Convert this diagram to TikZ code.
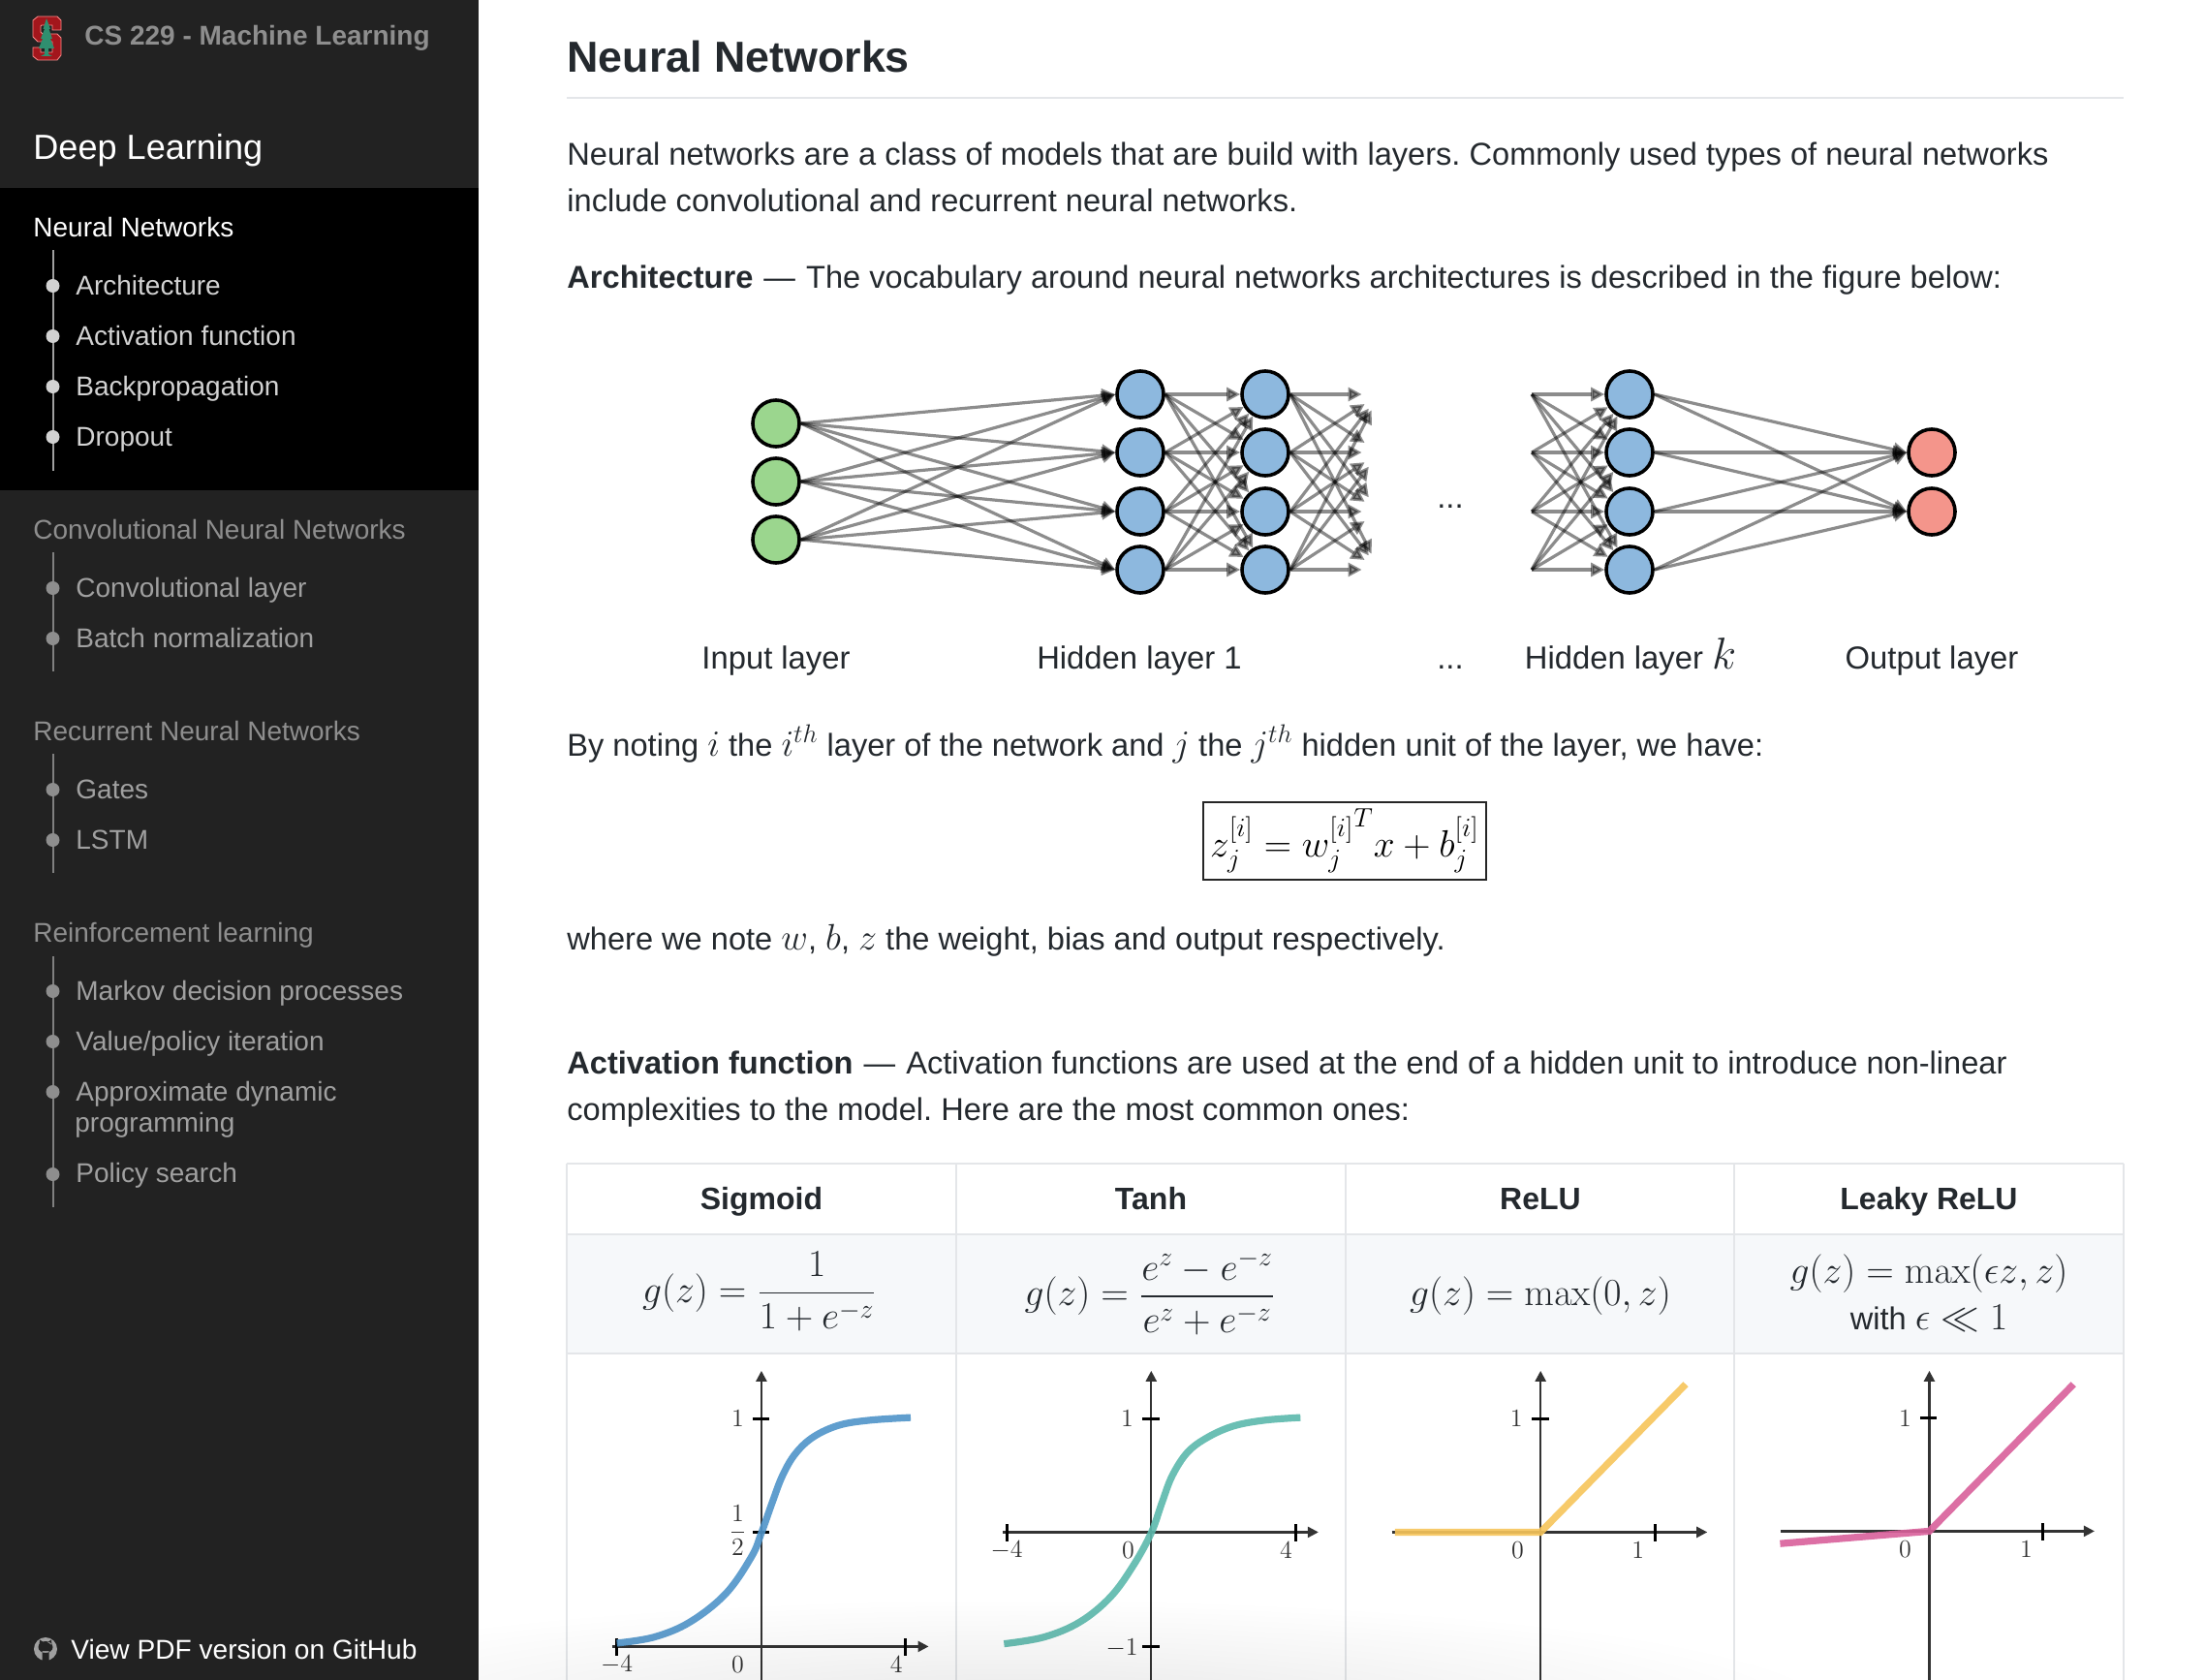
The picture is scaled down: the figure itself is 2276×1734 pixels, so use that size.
\documentclass[tikz,border=0pt]{standalone}
\usepackage{fix-cm}
\usepackage{amsmath}
\usepackage[no-math]{fontspec}
\setmainfont{Liberation Sans}
\usetikzlibrary{arrows.meta,fadings}
\definecolor{sidebg}{HTML}{222222}
\definecolor{inkc}{HTML}{24292E}
\definecolor{gridc}{HTML}{E4E6E9}
\definecolor{rowc}{HTML}{F6F8FA}
\definecolor{secc}{HTML}{8E8E8E}
\definecolor{subc}{HTML}{D2D2D2}
\definecolor{dimc}{HTML}{A0A0A0}
\definecolor{greenc}{HTML}{9BD68E}
\definecolor{bluec}{HTML}{8DB8DE}
\definecolor{redc}{HTML}{F4958B}
\definecolor{axisc}{HTML}{333333}
\definecolor{logoc}{HTML}{A3161C}
\definecolor{treec}{HTML}{2F8F6F}
\newcommand{\mth}[1]{{\fontsize{19}{20}\selectfont$#1$}}
\newcommand{\edash}{\kern1pt---\kern1pt}
\tikzfading[name=softb,inner color=transparent!0,outer color=transparent!100]
\tikzset{
  side/.style={anchor=base west,inner sep=0pt,font=\fontsize{14.0}{16}\selectfont},
  sec/.style={side,text=secc},
  subl/.style={side,text=subc},
  dim/.style={side,text=dimc},
  body/.style={anchor=base west,inner sep=0pt,text=inkc,font=\frenchspacing\fontsize{16.3}{18}\selectfont},
  lab/.style={anchor=base,inner sep=0pt,text=inkc,font=\fontsize{16.4}{18}\selectfont},
  head/.style={anchor=base,inner sep=0pt,text=inkc,font=\fontsize{16}{18}\selectfont\bfseries},
  frm/.style={anchor=center,inner sep=0pt,text=inkc,font=\fontsize{19.8}{22}\selectfont},
  tick/.style={anchor=center,inner sep=0pt,text=axisc,font=\fontsize{13}{15}\selectfont},
  neuron/.style={circle,draw=black,line width=1.8pt,minimum size=24pt,inner sep=0pt},
  ghost/.style={circle,minimum size=18pt,inner sep=0pt},
  conn/.style={black,opacity=.45,line width=1.6pt,-{Triangle[length=7pt,width=7pt]}},
  axis/.style={axisc,line width=1.2pt,-{Triangle[length=5.5pt,width=5.5pt]}},
  tk/.style={black,line width=1.5pt},
  curve/.style={line width=3.6pt,opacity=.9},
  tl/.style={dimc,line width=1pt},
  tlb/.style={dimc!80!black,line width=1pt},
  dot/.style={fill=#1,circle,inner sep=0pt,minimum size=7pt},
}
\begin{document}
\begin{tikzpicture}[x=0.5pt,y=-0.5pt]
\useasboundingbox (0,0) rectangle (2276,1734);
\fill[white] (0,0) rectangle (2276,1734);
% sidebar
\fill[sidebg] (0,0) rectangle (494,1734);
\fill[black] (0,194) rectangle (494,506);
% logo
\fill[logoc,draw=red!45!white,line width=.4pt]
 (39,17)--(59,17)--(63,21)--(63,31)--(54,31)--(54,26)--(43,26)--(42,27)--(42,33)--(44,35)--(59,35)--(63,39)--(63,57)--(59,62)--(39,62)--(34,58)--(34,49)--(42,49)--(42,54)--(54,54)--(54,43)--(39,43)--(34,38)--(34,21)--cycle;
\fill[treec] (48,19)--(52,30)--(50.5,30)--(54,40)--(52,40)--(56,50)--(50,50)--(50,56)--(54,58)--(42,58)--(46,56)--(46,50)--(40,50)--(44,40)--(42,40)--(46,30)--(44.5,30)--cycle;
\node[anchor=base west,inner sep=0pt,text=secc,font=\fontsize{14.0}{16}\selectfont\bfseries] (title) at (87,47) {CS 229 - Machine Learning};
\node[anchor=base west,inner sep=0pt,text=white,font=\fontsize{18.05}{20}\selectfont] (deep) at (34,164) {Deep Learning};
\node[side,text=white] (s0) at (34,244) {Neural Networks};
\draw[tl] (54.5,258) -- (54.5,486);
\foreach \yy in {295,347,399,451}{\node[dot=subc] at (54.5,\yy) {};}
\node[subl] (s1) at (78,304) {Architecture};
\node[subl] (s2) at (78,356) {Activation function};
\node[subl] (s3) at (78,408) {Backpropagation};
\node[subl] (s4) at (78,460) {Dropout};
\node[sec] (c0) at (34,556) {Convolutional Neural Networks};
\draw[tlb] (54.5,570) -- (54.5,693);
\foreach \yy in {607,659}{\node[dot=secc] at (54.5,\yy) {};}
\node[dim] (c1) at (78,616) {Convolutional layer};
\node[dim] (c2) at (78,668) {Batch normalization};
\node[sec] (r0) at (34,764) {Recurrent Neural Networks};
\draw[tlb] (54.5,778) -- (54.5,901);
\foreach \yy in {815,867}{\node[dot=secc] at (54.5,\yy) {};}
\node[dim] (r1) at (78,824) {Gates};
\node[dim] (r2) at (78,876) {LSTM};
\node[sec] (l0) at (34,972) {Reinforcement learning};
\draw[tlb] (54.5,987) -- (54.5,1246);
\foreach \yy in {1023,1075,1127,1212}{\node[dot=secc] at (54.5,\yy) {};}
\node[dim] (l1) at (78,1032) {Markov decision processes};
\node[dim] (l2) at (78,1084) {Value/policy iteration};
\node[dim] (l3) at (78,1136) {Approximate dynamic};
\node[dim] (l3b) at (77,1168) {programming};
\node[dim] (l4) at (78,1220) {Policy search};
% github
\fill[dimc] (47,1702) circle (12);
\fill[sidebg] (47,1700) ellipse (7.5 and 6) (40.5,1698)--(41,1692.5)--(45,1695)--cycle (53.5,1698)--(53,1692.5)--(49,1695)--cycle (43.5,1704) rectangle (50.5,1714);
\node[anchor=base west,inner sep=0pt,text=white,font=\fontsize{14.05}{16}\selectfont] (gh) at (73,1712) {View PDF version on GitHub};
% main text
\node[anchor=base west,inner sep=0pt,text=inkc,font=\fontsize{22.4}{26}\selectfont\bfseries] (h1) at (585,75) {Neural Networks};
\draw[gridc,line width=1pt] (585,101) -- (2192,101);
\node[body] (p1) at (585,170) {Neural networks are a class of models that are build with layers. Commonly used types of neural networks};
\node[body] (p2) at (585,218) {include convolutional and recurrent neural networks.};
\node[body] (p3) at (585,297) {\textbf{Architecture} \edash{} The vocabulary around neural networks architectures is described in the figure below:};
% network
\foreach \i/\yy in {1/437,2/497,3/557}{\node[neuron,fill=greenc] (in\i) at (801,\yy) {};}
\foreach \i/\yy in {1/407,2/467,3/528,4/588}{
  \node[neuron,fill=bluec] (ha\i) at (1177,\yy) {};
  \node[neuron,fill=bluec] (hb\i) at (1306,\yy) {};
  \node[ghost] (vr\i) at (1424,\yy) {};
  \coordinate (vl\i) at (1581,\yy);
  \node[neuron,fill=bluec] (hk\i) at (1682,\yy) {};
}
\foreach \i/\yy in {1/467,2/528}{\node[neuron,fill=redc] (out\i) at (1994,\yy) {};}
\foreach \a in {1,2,3}{\foreach \b in {1,2,3,4}{\draw[conn] (in\a.east) -- (ha\b.west);}}
\foreach \a in {1,2,3,4}{\foreach \b in {1,2,3,4}{
  \draw[conn] (ha\a.east) -- (hb\b);
  \draw[conn] (hb\a.east) -- (vr\b);
  \draw[conn] (vl\a) -- (hk\b);
}}
\foreach \a in {1,2,3,4}{\foreach \b in {1,2}{\draw[conn] (hk\a.east) -- (out\b.west);}}
\node[lab] (d1) at (1497,524) {...};
\node[lab] (t1) at (801,690) {Input layer};
\node[lab] (t2) at (1176,690) {Hidden layer 1};
\node[lab] (t3) at (1497,690) {...};
\node[lab] (t4) at (1683,690) {Hidden layer {\fontsize{23}{24}\selectfont$k$}};
\node[lab] (t5) at (1994,690) {Output layer};
\node[body] (p4) at (585,780) {By noting \mth{i} the \mth{i^{th}} layer of the network and \mth{j} the \mth{j^{th}} hidden unit of the layer, we have:};
\node[draw=black!85,line width=1.1pt,minimum width=146pt,minimum height=40pt,inner sep=0pt,font=\fontsize{19.6}{22}\selectfont] (eq) at (1388,868) {$z_j^{[i]}={w_j^{[i]}}^{T}x+b_j^{[i]}$};
\node[body] (p5) at (585,980) {where we note \mth{w}, \mth{b}, \mth{z} the weight, bias and output respectively.};
\node[body] (p6) at (585,1108) {\textbf{Activation function} \edash{} Activation functions are used at the end of a hidden unit to introduce non-linear};
\node[body] (p7) at (585,1156) {complexities to the model. Here are the most common ones:};
% table
\fill[rowc] (585,1274) rectangle (2192,1397);
\draw[gridc,line width=1.3pt] (585,1201) -- (2192,1201) (585,1274) -- (2192,1274) (585,1397) -- (2192,1397)
  (585,1201) -- (585,1734) (987,1201) -- (987,1734) (1389,1201) -- (1389,1734) (1790,1201) -- (1790,1734) (2192,1201) -- (2192,1734);
\node[head] (th1) at (786,1248) {Sigmoid};
\node[head] (th2) at (1188,1248) {Tanh};
\node[head] (th3) at (1590,1248) {ReLU};
\node[head] (th4) at (1991,1248) {Leaky ReLU};
\node[frm] (f1) at (784,1333) {$g(z)=\dfrac{1}{1+e^{-z}}$};
\node[frm] (f2) at (1187,1334) {$g(z)=\dfrac{e^{z}-e^{-z}}{e^{z}+e^{-z}}$};
\node[frm] (f3) at (1590,1338) {$g(z)=\max(0,z)$};
\node[frm] (f4) at (1991,1315) {$g(z)=\max(\epsilon z,z)$};
\node[frm,font=\fontsize{16.3}{18}\selectfont] (f4b) at (1991,1360) {with {\fontsize{19.8}{22}\selectfont$\epsilon\ll 1$}};
% plots
\begin{scope}[shift={(580,1190)},xscale=.5294,yscale=.347]
 \draw[axis,-] (389,1568) -- (389,660);
 \draw[axis] (389,680) -- (389,648);
 \draw[axis] (98,1468) -- (715,1468);
 \draw[tk] (107,1445) -- (107,1495) (670,1445) -- (670,1495) (372,790) -- (405,790) (372,1128) -- (405,1128);
 \draw[curve,color={rgb,255:red,79;green,148;blue,201}] plot[smooth,tension=.6] coordinates {(107,1458)(180,1440)(250,1395)(320,1310)(370,1200)(389,1130)(410,1040)(430,960)(455,895)(490,845)(540,810)(600,795)(680,787)};
 \node[tick] at (343,790) {$1$};
 \node[tick] at (343,1122) {$\dfrac{1}{2}$};
 \node[tick] at (107,1522) {$-4$};
 \node[tick] at (343,1522) {$0$};
 \node[tick] at (652,1522) {$4$};
 \draw[axis,-] (1149,1568) -- (1149,660);
 \draw[axis] (1149,680) -- (1149,648);
 \draw[axis] (860,1128) -- (1475,1128);
 \draw[tk] (867,1105) -- (867,1155) (1430,1105) -- (1430,1155) (1132,790) -- (1166,790) (1132,1468) -- (1166,1468);
 \draw[curve,color={rgb,255:red,92;green,185;blue,172}] plot[smooth,tension=.6] coordinates {(862,1460)(940,1440)(1010,1395)(1070,1320)(1115,1225)(1149,1130)(1170,1040)(1190,960)(1220,890)(1260,845)(1310,812)(1370,795)(1440,787)};
 \node[tick] at (1102,790) {$1$};
 \node[tick] at (1092,1472) {$-1$};
 \node[tick] at (867,1183) {$-4$};
 \node[tick] at (1104,1182) {$0$};
 \node[tick] at (1412,1182) {$4$};
\end{scope}
\begin{scope}[shift={(1380,1190)},xscale=.5294,yscale=.347]
 \draw[axis,-] (397,1568) -- (397,660);
 \draw[axis] (397,680) -- (397,648);
 \draw[axis] (107,1128) -- (722,1128);
 \draw[tk] (620,1105) -- (620,1155) (380,790) -- (414,790);
 \draw[curve,color={rgb,255:red,247;green,197;blue,90}] (113,1128) -- (397,1128) -- (680,688);
 \node[tick] at (350,790) {$1$};
 \node[tick] at (352,1182) {$0$};
 \node[tick] at (587,1182) {$1$};
 \draw[axis,-] (1155,1568) -- (1155,660);
 \draw[axis] (1155,680) -- (1155,648);
 \draw[axis] (865,1125) -- (1477,1125);
 \draw[tk] (1376,1102) -- (1376,1152) (1138,788) -- (1170,788);
 \draw[curve,color={rgb,255:red,217;green,96;blue,155}] (864,1162) -- (1155,1125) -- (1436,688);
 \node[tick] at (1108,790) {$1$};
 \node[tick] at (1108,1178) {$0$};
 \node[tick] at (1344,1178) {$1$};
\end{scope}
\begin{scope}
 \clip (494,1600) rectangle (2276,1734);
 \fill[black,opacity=.09,path fading=softb] (200,1650) rectangle (1900,1880);
\end{scope}
\end{tikzpicture}
\end{document}
